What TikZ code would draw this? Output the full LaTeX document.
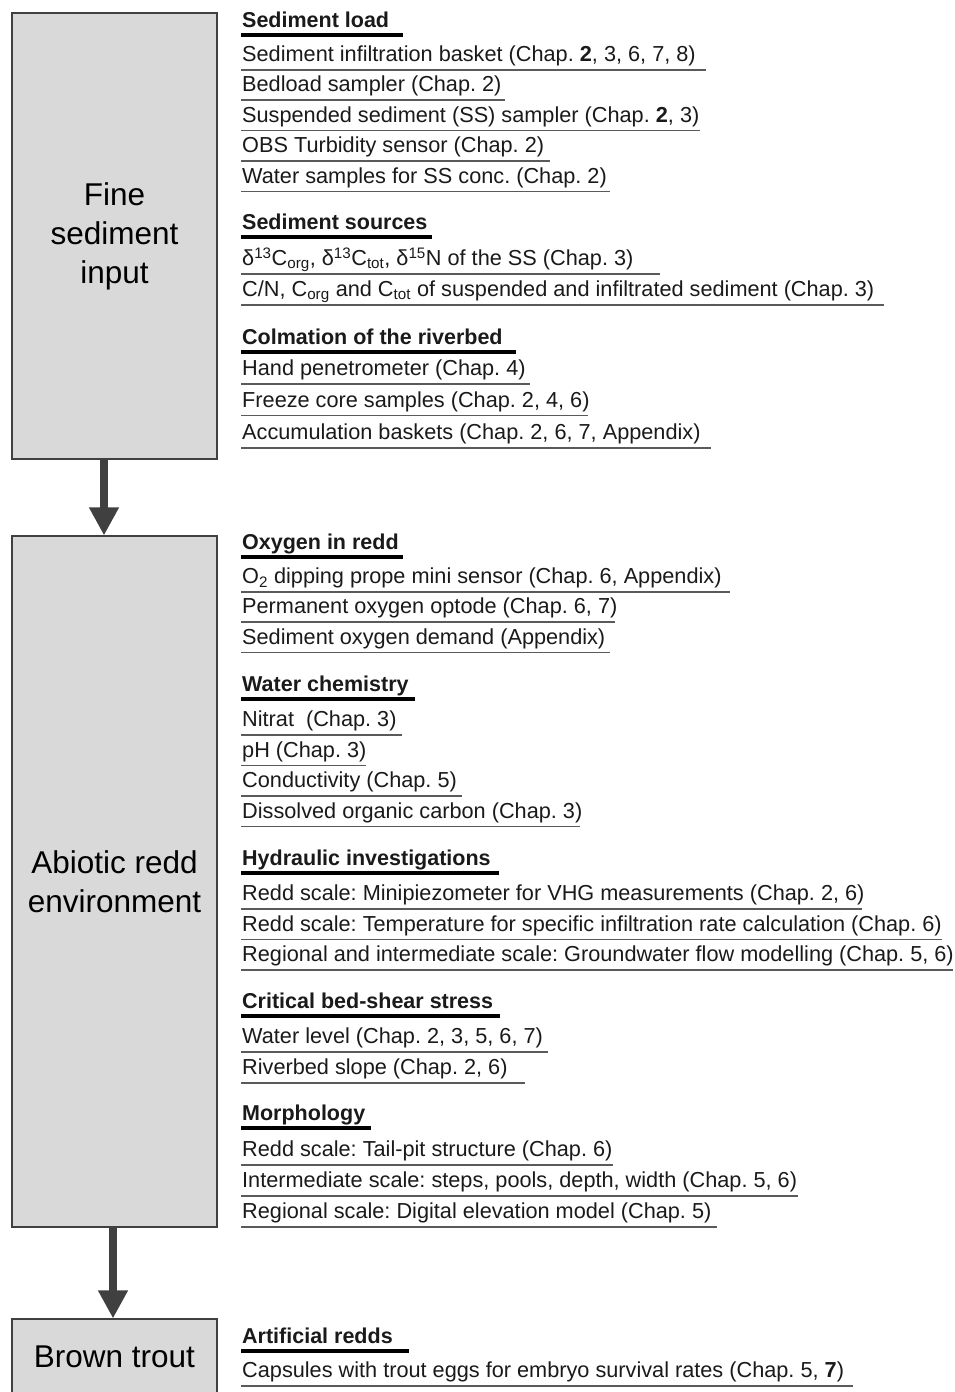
\documentclass[tikz,border=0pt]{standalone}
\usepackage{fontspec}
\setmainfont{Liberation Sans}
\usetikzlibrary{arrows.meta}
\definecolor{boxfill}{HTML}{D9D9D9}
\definecolor{boxline}{HTML}{404040}
\definecolor{arrcol}{HTML}{404040}
\definecolor{ulcol}{HTML}{5A5A5A}
\definecolor{txtcol}{HTML}{1A1A1A}
\newcommand\Itm[4]{\node[itemtext] (#1) at (242,{#2-8.3}) {#4};\draw[uline] (241,#2) -- (#3,#2);}
\newcommand\Hd[4]{\node[headtext] (#1) at (242,{#2-7.7}) {#4};\draw[hline] (241,#2) -- (#3,#2);}
\frenchspacing
\begin{document}
\begin{tikzpicture}[x=1pt,y=-1pt,
  box/.style={draw=boxline, line width=1.1pt, fill=boxfill, minimum width=205pt, inner sep=0pt,
    align=center, text=black, font=\fontsize{31.5}{39}\selectfont},
  itemtext/.style={anchor=base west, inner sep=0pt, text=txtcol, font=\fontsize{21.7}{26}\selectfont},
  headtext/.style={anchor=base west, inner sep=0pt, text=txtcol, font=\fontsize{21.5}{26}\selectfont\bfseries},
  uline/.style={draw=ulcol, line width=1.3pt},
  hline/.style={draw=black, line width=3.6pt},
  flow/.style={draw=arrcol, line width=8pt, -{Triangle[width=28pt,length=28pt]}, arrcol}
]
\useasboundingbox (0,0) rectangle (955,1392);
\fill[white] (0,0) rectangle (955,1392);

% boxes
\node[box, minimum height=446pt] (b1) at (114.5,236) {Fine\\sediment\\input};
\node[box, minimum height=691pt] (b2) at (114.5,881.5) {Abiotic redd\\environment};
\node[box, minimum height=76pt] (b3) at (114.5,1357) {Brown trout};

% arrows
\draw[flow] ([xshift=-10.5pt]b1.south) -- ([xshift=-10.5pt]b2.north);
\draw[flow] ([xshift=-1.5pt]b2.south) -- ([xshift=-1.5pt]b3.north);

% Sediment load
\Hd{h1}{35}{403}{Sediment load}
\Itm{i11}{70}{706}{Sediment infiltration basket (Chap. \textbf{2}, 3, 6, 7, 8)}
\Itm{i12}{100}{505}{Bedload sampler (Chap. 2)}
\Itm{i13}{130.5}{700}{Suspended sediment (SS) sampler (Chap. \textbf{2}, 3)}
\Itm{i14}{161}{550}{OBS Turbidity sensor (Chap. 2)}
\Itm{i15}{191.5}{610}{Water samples for SS conc. (Chap. 2)}

% Sediment sources
\Hd{h2}{237}{432}{Sediment sources}
\Itm{i21}{274}{660}{δ\textsuperscript{13}C\textsubscript{org}, δ\textsuperscript{13}C\textsubscript{tot}, δ\textsuperscript{15}N of the SS (Chap. 3)}
\Itm{i22}{305}{884}{C/N, C\textsubscript{org} and C\textsubscript{tot} of suspended and infiltrated sediment (Chap. 3)}

% Colmation
\Hd{h3}{352}{516}{Colmation of the riverbed}
\Itm{i31}{384}{530}{Hand penetrometer (Chap. 4)}
\Itm{i32}{415.5}{588}{Freeze core samples (Chap. 2, 4, 6)}
\Itm{i33}{448}{711}{Accumulation baskets (Chap. 2, 6, 7, Appendix)}

% Oxygen in redd
\Hd{h4}{557}{403}{Oxygen in redd}
\Itm{i41}{592}{730}{O\textsubscript{2} dipping prope mini sensor (Chap. 6, Appendix)}
\Itm{i42}{622}{615}{Permanent oxygen optode (Chap. 6, 7)}
\Itm{i43}{652.5}{610}{Sediment oxygen demand (Appendix)}

% Water chemistry
\Hd{h5}{699}{415}{Water chemistry}
\Itm{i51}{735}{402}{Nitrat\ \ (Chap. 3)}
\Itm{i52}{765.5}{366}{pH (Chap. 3)}
\Itm{i53}{796}{462}{Conductivity (Chap. 5)}
\Itm{i54}{826.5}{580}{Dissolved organic carbon (Chap. 3)}

% Hydraulic investigations
\Hd{h6}{873}{499}{Hydraulic investigations}
\Itm{i61}{909}{862}{Redd scale: Minipiezometer for VHG measurements (Chap. 2, 6)}
\Itm{i62}{939.5}{942}{Redd scale: Temperature for specific infiltration rate calculation (Chap. 6)}
\Itm{i63}{970}{953}{Regional and intermediate scale: Groundwater flow modelling (Chap. 5, 6)}

% Critical bed-shear stress
\Hd{h7}{1016}{500}{Critical bed-shear stress}
\Itm{i71}{1052}{548}{Water level (Chap. 2, 3, 5, 6, 7)}
\Itm{i72}{1083}{525}{Riverbed slope (Chap. 2, 6)}

% Morphology
\Hd{h8}{1128}{371}{Morphology}
\Itm{i81}{1165}{613}{Redd scale: Tail-pit structure (Chap. 6)}
\Itm{i82}{1196}{798}{Intermediate scale: steps, pools, depth, width (Chap. 5, 6)}
\Itm{i83}{1227}{717}{Regional scale: Digital elevation model (Chap. 5)}

% Artificial redds
\Hd{h9}{1351}{409}{Artificial redds}
\Itm{i91}{1386}{853}{Capsules with trout eggs for embryo survival rates (Chap. 5, \textbf{7})}
\end{tikzpicture}
\end{document}
